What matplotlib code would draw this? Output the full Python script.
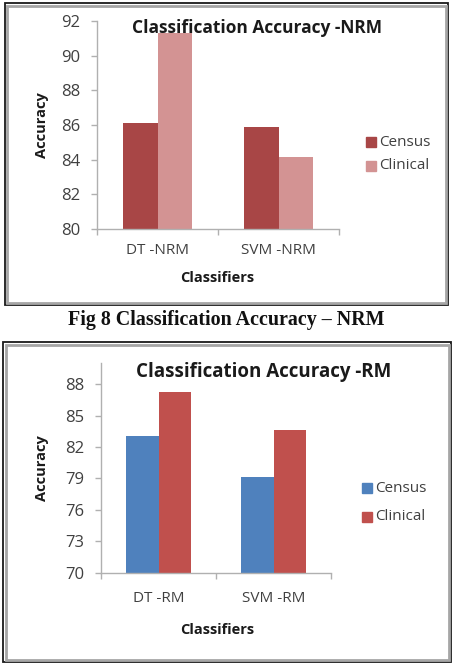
import matplotlib
matplotlib.use("Agg")
import matplotlib.pyplot as plt
from matplotlib.patches import Rectangle
import numpy as np

plt.rcParams['font.family'] = ['Open Sans', 'DejaVu Sans']

# Data
nrm_categories = ["DT -NRM", "SVM -NRM"]
nrm_census = [86.13, 85.86]
nrm_clinical = [91.28, 84.13]
nrm_ticks = [80, 82, 84, 86, 88, 90, 92]

rm_categories = ["DT -RM", "SVM -RM"]
rm_census = [83.1, 79.18]
rm_clinical = [87.3, 83.64]
rm_ticks = [70, 73, 76, 79, 82, 85, 88]

series_names = ["Census", "Clinical"]

W, H = 457, 667
fig = plt.figure(figsize=(W / 100, H / 100), dpi=100)
fig.patch.set_facecolor("white")

def fx(px):
    return px / W

def fy(py):
    return 1 - py / H

def frame(x0, y0, x1, y1):
    fig.patches.append(Rectangle((fx(x0), fy(y1)), fx(x1) - fx(x0), fy(y0) - fy(y1),
                                 transform=fig.transFigure, fill=False,
                                 edgecolor="#1a1a1a", linewidth=1.3, zorder=0))
    fig.patches.append(Rectangle((fx(x0 + 2.5), fy(y1 - 2.5)), fx(x1 - x0 - 5), fy(y0 + 2.5) - fy(y1 - 2.5),
                                 transform=fig.transFigure, fill=False,
                                 edgecolor="#a6a6a6", linewidth=2.0, zorder=0))

frame(4.5, 3, 448, 305)
frame(3, 342, 451, 662)

def chart(left, right, top, bottom, cats, census, clinical, ticks, ylim, colors,
          title, title_xy, title_size, legend_pos, ylab_xy, xlab_xy, cat_y):
    ax = fig.add_axes([fx(left), fy(bottom), fx(right - left), fy(top) - fy(bottom)])
    x = np.arange(len(cats))
    bw = 1 / 3.5
    ax.bar(x - bw / 2, np.array(census) - ylim[0], bw, bottom=ylim[0], color=colors[0], label=series_names[0])
    ax.bar(x + bw / 2, np.array(clinical) - ylim[0], bw, bottom=ylim[0], color=colors[1], label=series_names[1])
    ax.set_xlim(-0.5, len(cats) - 0.5)
    ax.set_ylim(*ylim)
    ax.set_yticks(ticks)
    ax.set_yticklabels([str(t) for t in ticks], fontsize=12, color="#404040")
    ax.set_xticks([-0.5, 0.5, 1.5])
    ax.set_xticklabels([])
    for i, c in enumerate(cats):
        fig.text(fx(left + (right - left) * (i + 0.5) / len(cats)), fy(cat_y), c,
                 ha="center", va="center", fontsize=11, color="#404040")
    for s in ["top", "right"]:
        ax.spines[s].set_visible(False)
    for s in ["left", "bottom"]:
        ax.spines[s].set_color("#b0b0b0")
        ax.spines[s].set_linewidth(1.0)
    ax.tick_params(axis="both", length=4, color="#b0b0b0", width=1.0, pad=8)
    ax.set_facecolor("none")
    fig.text(fx(title_xy[0]), fy(title_xy[1]), title, ha="center", va="center",
             fontsize=title_size, fontweight="bold", color="#1a1a1a")
    fig.text(fx(ylab_xy[0]), fy(ylab_xy[1]), "Accuracy", ha="center", va="center",
             rotation=90, fontsize=10.5, fontweight="bold", color="#1a1a1a")
    fig.text(fx(xlab_xy[0]), fy(xlab_xy[1]), "Classifiers", ha="center", va="center",
             fontsize=10.5, fontweight="bold", color="#1a1a1a")
    for i, (name, col) in enumerate(zip(series_names, colors)):
        sx, sy = legend_pos[i]
        fig.patches.append(Rectangle((fx(sx), fy(sy + 5)), fx(10), fy(0) - fy(10),
                                     transform=fig.transFigure, color=col))
        fig.text(fx(sx + 13), fy(sy), name, ha="left", va="center", fontsize=11, color="#404040")
    return ax

chart(97, 339, 21, 229, nrm_categories, nrm_census, nrm_clinical, nrm_ticks, (80, 92),
      ["#A84646", "#D39393"], "Classification Accuracy -NRM", (257, 28), 12.5,
      [(366, 142), (366, 166)], (42, 125), (217, 278), 251)

chart(101, 331, 363.3, 572.7, rm_categories, rm_census, rm_clinical, rm_ticks, (70, 90),
      ["#4F81BD", "#C0504D"], "Classification Accuracy -RM", (264, 372), 13.5,
      [(362, 488), (362, 517)], (42, 468), (217, 630), 598)

fig.text(fx(226), fy(320), "Fig 8 Classification Accuracy \u2013 NRM", ha="center", va="center",
         fontsize=14.4, fontweight="bold", family=["Liberation Serif", "DejaVu Serif"], color="#111111")

fig.savefig("out.png", dpi=100, facecolor="white")
